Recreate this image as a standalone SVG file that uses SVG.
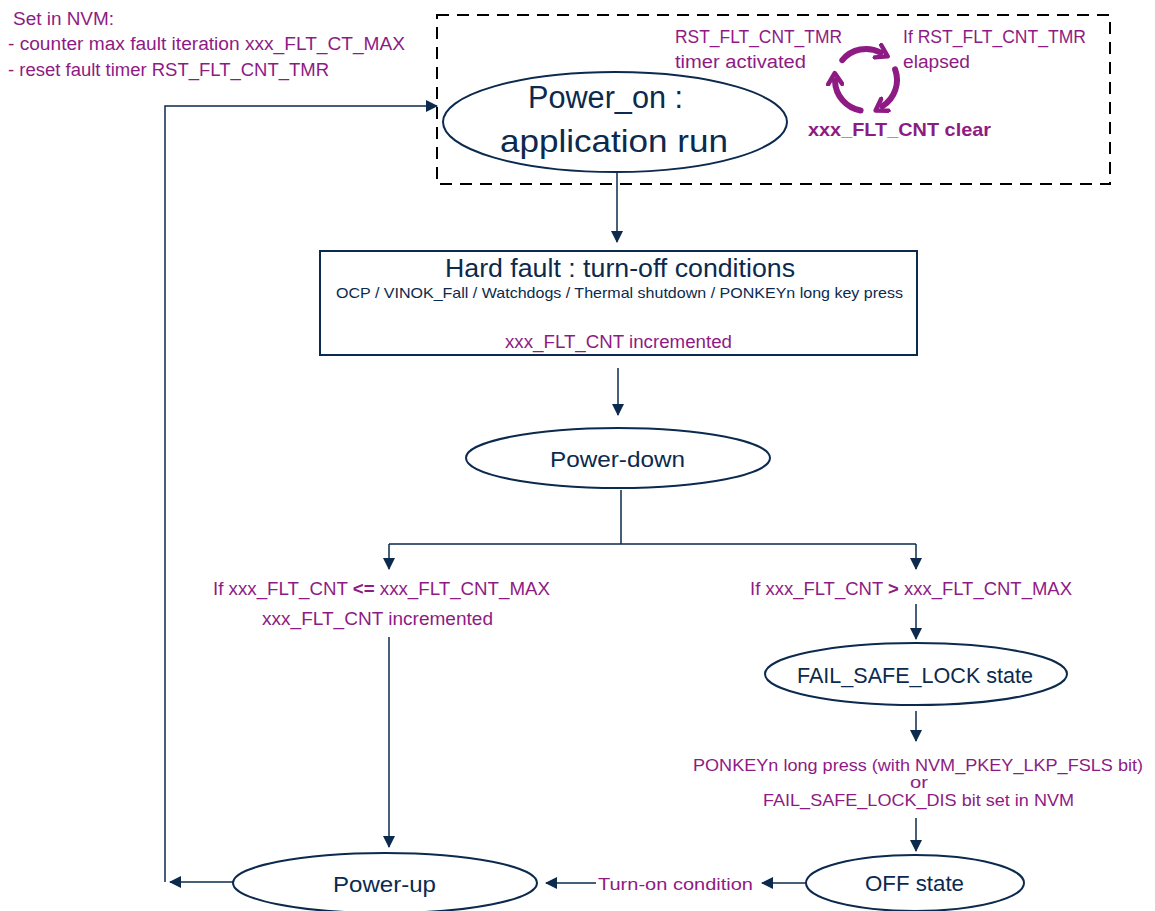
<svg xmlns="http://www.w3.org/2000/svg" width="1155" height="911" viewBox="0 0 1155 911">
<defs>
<style>
.t{font-family:"Liberation Sans",Arial,sans-serif}
.p{fill:#8E1B84}
.n{fill:#0B2A4E}
.node{fill:#fff;stroke:#0B2A4E;stroke-width:2}
.c{fill:none;stroke:#0B2A4E;stroke-width:1.5}
.cyc{fill:none;stroke:#8E1B84;stroke-width:6;stroke-linecap:round}
</style>
<marker id="ah" markerWidth="12" markerHeight="12" refX="11" refY="6" orient="auto" markerUnits="userSpaceOnUse">
<path d="M0,0 L12,6 L0,12 z" fill="#0B2A4E"/>
</marker>
<marker id="ac" markerWidth="18" markerHeight="18" refX="5" refY="9" orient="auto" markerUnits="userSpaceOnUse">
<path d="M2,2 L13,9 L2,16" fill="none" stroke="#8E1B84" stroke-width="4.5" stroke-linecap="round" stroke-linejoin="round"/>
</marker>
</defs>
<rect width="1155" height="911" fill="#fff"/>

<g id="nvm-note" class="t p" font-size="18" lengthAdjust="spacingAndGlyphs">
<text x="13" y="25" textLength="101" lengthAdjust="spacingAndGlyphs">Set in NVM:</text>
<text x="8" y="50" textLength="397" lengthAdjust="spacingAndGlyphs">- counter max fault iteration xxx_FLT_CT_MAX</text>
<text x="8" y="76" textLength="321" lengthAdjust="spacingAndGlyphs">- reset fault timer RST_FLT_CNT_TMR</text>
</g>

<g id="dashed-frame">
<rect x="437" y="15" width="673" height="169" fill="none" stroke="#000" stroke-width="2" stroke-dasharray="12,8"/>
</g>

<g id="cycle">
<path class="cyc" d="M842.3,60.1 A31,31 0 0 1 880.6,52.6" marker-end="url(#ac)"/>
<path class="cyc" d="M895.1,69.4 A31,31 0 0 1 882.4,106.3" marker-end="url(#ac)"/>
<path class="cyc" d="M860.6,110.5 A31,31 0 0 1 835,81.1" marker-end="url(#ac)"/>
<text class="t p" font-size="18" x="675" y="43" textLength="167" lengthAdjust="spacingAndGlyphs">RST_FLT_CNT_TMR</text>
<text class="t p" font-size="18" x="675" y="68" textLength="131" lengthAdjust="spacingAndGlyphs">timer activated</text>
<text class="t p" font-size="18" x="903" y="43" textLength="183" lengthAdjust="spacingAndGlyphs">If RST_FLT_CNT_TMR</text>
<text class="t p" font-size="18" x="903" y="68" textLength="67" lengthAdjust="spacingAndGlyphs">elapsed</text>
<text class="t p" font-size="19" font-weight="bold" x="808" y="136" textLength="183" lengthAdjust="spacingAndGlyphs">xxx_FLT_CNT clear</text>
</g>

<g id="power-on">
<ellipse class="node" cx="615" cy="122" rx="172" ry="50"/>
<text class="t n" font-size="31" x="528" y="108" textLength="155" lengthAdjust="spacingAndGlyphs">Power_on :</text>
<text class="t n" font-size="32" x="500" y="152" textLength="228" lengthAdjust="spacingAndGlyphs">application run</text>
</g>

<g id="hard-fault">
<rect class="node" x="320" y="251" width="597" height="104"/>
<text class="t n" font-size="25" x="445" y="277" textLength="350" lengthAdjust="spacingAndGlyphs">Hard fault : turn-off conditions</text>
<text class="t n" font-size="15" x="336" y="298" textLength="567" lengthAdjust="spacingAndGlyphs">OCP / VINOK_Fall / Watchdogs / Thermal shutdown / PONKEYn long key press</text>
<text class="t p" font-size="18" x="505" y="348" textLength="227" lengthAdjust="spacingAndGlyphs">xxx_FLT_CNT incremented</text>
</g>

<g id="power-down">
<ellipse class="node" cx="618" cy="458" rx="152" ry="30"/>
<text class="t n" font-size="22" x="550" y="467" textLength="135" lengthAdjust="spacingAndGlyphs">Power-down</text>
</g>

<g id="cond-le" class="t p" font-size="18">
<text x="213" y="595" textLength="337" lengthAdjust="spacingAndGlyphs">If  xxx_FLT_CNT  <tspan font-weight="bold">&lt;=</tspan> xxx_FLT_CNT_MAX</text>
<text x="262" y="625" textLength="231" lengthAdjust="spacingAndGlyphs">xxx_FLT_CNT  incremented</text>
</g>

<g id="cond-gt" class="t p" font-size="18">
<text x="750" y="595" textLength="322" lengthAdjust="spacingAndGlyphs">If  xxx_FLT_CNT  <tspan font-weight="bold">&gt;</tspan> xxx_FLT_CNT_MAX</text>
</g>

<g id="fail-safe-lock">
<ellipse class="node" cx="916" cy="674" rx="151" ry="31"/>
<text class="t n" font-size="22" x="797" y="683" textLength="236" lengthAdjust="spacingAndGlyphs">FAIL_SAFE_LOCK state</text>
</g>

<g id="exit-cond" class="t p" font-size="17">
<text x="693" y="771" textLength="450" lengthAdjust="spacingAndGlyphs">PONKEYn long press (with NVM_PKEY_LKP_FSLS bit)</text>
<text x="910" y="788" textLength="18" lengthAdjust="spacingAndGlyphs">or</text>
<text x="763" y="806" textLength="311" lengthAdjust="spacingAndGlyphs">FAIL_SAFE_LOCK_DIS bit set in NVM</text>
</g>

<g id="off-state">
<ellipse class="node" cx="915" cy="883" rx="109" ry="28"/>
<text class="t n" font-size="22" x="865" y="891" textLength="99" lengthAdjust="spacingAndGlyphs">OFF state</text>
</g>

<g id="turn-on">
<text class="t p" font-size="17" x="598" y="890" textLength="155" lengthAdjust="spacingAndGlyphs">Turn-on condition</text>
</g>

<g id="power-up">
<ellipse class="node" cx="385" cy="883" rx="152" ry="30"/>
<text class="t n" font-size="22" x="333" y="892" textLength="103" lengthAdjust="spacingAndGlyphs">Power-up</text>
</g>

<g id="connectors" class="c">
<path d="M617,172 V242" marker-end="url(#ah)"/>
<path d="M618,368 V415" marker-end="url(#ah)"/>
<path d="M621,490 V544 M389,544 H916"/>
<path d="M389,544 V569" marker-end="url(#ah)"/>
<path d="M916,544 V569" marker-end="url(#ah)"/>
<path d="M389,637 V847" marker-end="url(#ah)"/>
<path d="M916,604 V639" marker-end="url(#ah)"/>
<path d="M916,711 V741" marker-end="url(#ah)"/>
<path d="M916,818 V851" marker-end="url(#ah)"/>
<path d="M806,883 H762" marker-end="url(#ah)"/>
<path d="M596,883 H546" marker-end="url(#ah)"/>
<path d="M233,882 H170" marker-end="url(#ah)"/>
<path d="M165,882 V106 H437" marker-end="url(#ah)"/>
</g>
</svg>
